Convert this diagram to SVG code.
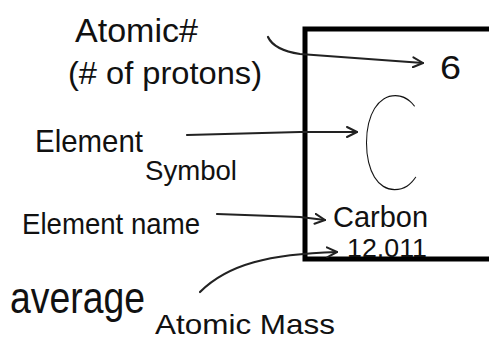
<svg xmlns="http://www.w3.org/2000/svg" width="489" height="341" viewBox="0 0 489 341">
<style>
.t{font-family:"Liberation Sans","DejaVu Sans",sans-serif;fill:#111;}
.c{fill:none;stroke:#222;stroke-width:2.2;stroke-linecap:round;stroke-linejoin:round;}
</style>
<defs>
<marker id="ah" viewBox="0 0 12 12" refX="11" refY="6" markerWidth="12" markerHeight="12" markerUnits="userSpaceOnUse" orient="auto">
<path d="M1,1 L11,6 L1,11" fill="none" stroke="#222" stroke-width="2" stroke-linecap="round" stroke-linejoin="round"/>
</marker>
</defs>
<rect width="489" height="341" fill="#fff"/>
<g id="box">
<path d="M489,29 H305 V259 H489" fill="none" stroke="#000" stroke-width="5"/>
</g>
<g id="connectors">
<path class="c" d="M268,37 Q274,50 300,54 L423,63" marker-end="url(#ah)"/>
<path class="c" d="M187,135 L300,132 L357,132" marker-end="url(#ah)"/>
<path class="c" d="M217,214 L300,217 L325,220" marker-end="url(#ah)"/>
<path class="c" d="M200,292 C228,264 270,254 337,252" marker-end="url(#ah)"/>
</g>
<g id="atomic-number-label">
<text class="t" x="75" y="42" font-size="34" textLength="123" lengthAdjust="spacingAndGlyphs">Atomic#</text>
<text class="t" x="68" y="84" font-size="32" textLength="194" lengthAdjust="spacingAndGlyphs">(# of protons)</text>
</g>
<g id="atomic-number"><text class="t" x="440" y="79" font-size="34" textLength="21" lengthAdjust="spacingAndGlyphs">6</text></g>
<g id="element-symbol-label">
<text class="t" x="35" y="152" font-size="32" textLength="108" lengthAdjust="spacingAndGlyphs">Element</text>
<text class="t" x="145" y="180" font-size="28" textLength="92" lengthAdjust="spacingAndGlyphs">Symbol</text>
</g>
<g id="element-symbol"><text x="360" y="189" font-size="132" font-weight="100" style="font-family:Lato,Inter,'Open Sans',sans-serif;fill:#111" textLength="60" lengthAdjust="spacingAndGlyphs">C</text></g>
<g id="element-name-label"><text class="t" x="22" y="234" font-size="30" textLength="178" lengthAdjust="spacingAndGlyphs">Element name</text></g>
<g id="element-name"><text class="t" x="333" y="227" font-size="29" textLength="95" lengthAdjust="spacingAndGlyphs">Carbon</text></g>
<g id="mass"><text class="t" x="347" y="257" font-size="25" textLength="80" lengthAdjust="spacingAndGlyphs">12.011</text></g>
<g id="mass-label">
<text class="t" x="10" y="313" font-size="44" textLength="135" lengthAdjust="spacingAndGlyphs">average</text>
<text class="t" x="155" y="334" font-size="28" textLength="180" lengthAdjust="spacingAndGlyphs">Atomic Mass</text>
</g>
</svg>
